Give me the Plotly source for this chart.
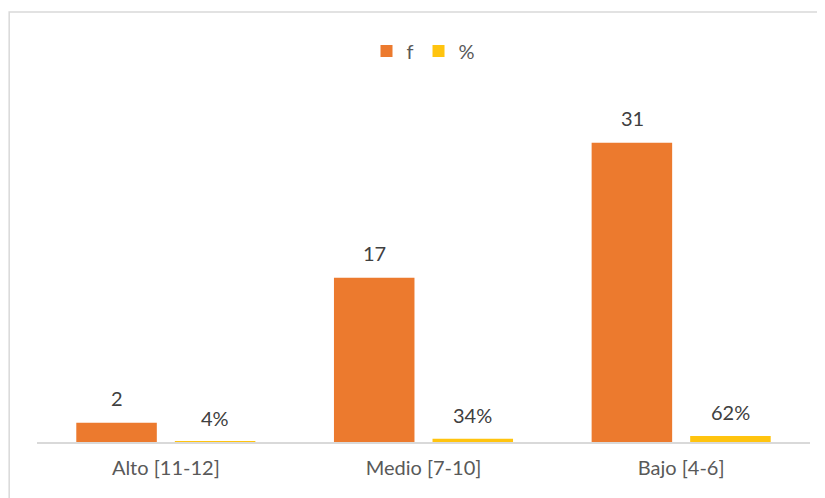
import plotly.graph_objects as go

categories = ["Alto [11-12]", "Medio [7-10]", "Bajo [4-6]"]
f_values = [2, 17, 31]
pct_values = [0.04, 0.34, 0.62]
f_labels = ["2", "17", "31"]
pct_labels = ["4%", "34%", "62%"]

ORANGE = "#EC7A2E"
YELLOW = "#FFC40F"
TEXT = "#404040"
AXIS_TEXT = "#595959"
FONT = "Lato, 'Open Sans', sans-serif"
FS = 20

fig = go.Figure()
fig.add_trace(go.Bar(x=categories, y=f_values, name="f", marker=dict(color=ORANGE, line=dict(width=0))))
fig.add_trace(go.Bar(x=categories, y=pct_values, name="%", marker=dict(color=YELLOW, line=dict(width=0))))

annotations = []
for c, v, t in zip(categories, f_values, f_labels):
    annotations.append(dict(x=c, y=v, text=t, xref="x", yref="y", showarrow=False,
                            xshift=-49, yshift=25, yanchor="middle",
                            font=dict(size=FS, color=TEXT, family=FONT)))
for c, v, t in zip(categories, pct_values, pct_labels):
    annotations.append(dict(x=c, y=v, text=t, xref="x", yref="y", showarrow=False,
                            xshift=49, yshift=24, yanchor="middle",
                            font=dict(size=FS, color=TEXT, family=FONT)))

fig.update_layout(
    width=817, height=490,
    margin=dict(l=29, r=15, t=96, b=56),
    paper_bgcolor="white", plot_bgcolor="white",
    barmode="group", bargap=0.235, bargroupgap=0.183,
    font=dict(family=FONT, size=FS, color=AXIS_TEXT),
    showlegend=True,
    legend=dict(orientation="h", x=0.5, xanchor="center", y=1.157, yanchor="middle",
                font=dict(size=FS, color=AXIS_TEXT, family=FONT),
                itemwidth=30, traceorder="normal"),
    annotations=annotations,
    shapes=[dict(type="rect", xref="paper", yref="paper",
                 x0=-0.036, x1=1.1, y0=-0.3, y1=1.272,
                 line=dict(color="#D9D9D9", width=1.5), fillcolor="rgba(0,0,0,0)", layer="below")],
)
fig.update_xaxes(showline=True, linecolor="#D9D9D9", linewidth=2, ticks="",
                 ticklabelstandoff=7,
                 showgrid=False, tickfont=dict(size=FS, color=AXIS_TEXT, family=FONT))
fig.update_yaxes(range=[0, 35], visible=False, showgrid=False, zeroline=False)

fig.write_html("out.html")
